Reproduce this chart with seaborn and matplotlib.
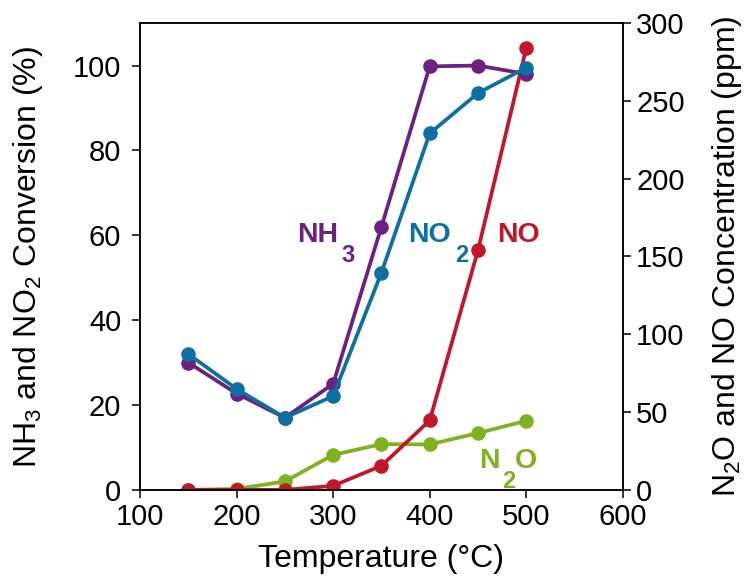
import matplotlib
matplotlib.use("Agg")
import matplotlib.pyplot as plt
import seaborn as sns
import pandas as pd

temperature = [150, 200, 250, 300, 350, 400, 450, 500]
nh3_conv = [30.0, 22.7, 17.0, 25.0, 62.0, 99.8, 100.0, 98.0]
no2_conv = [32.0, 23.8, 17.0, 22.1, 51.2, 84.0, 93.5, 99.5]
no_ppm = [0.0, 0.0, 0.0, 2.6, 15.5, 44.6, 154.0, 284.0]
n2o_ppm = [0.0, 0.6, 5.4, 22.5, 29.4, 29.2, 36.5, 44.4]

c_nh3 = "#6b2180"
c_no2 = "#0e6fa3"
c_no = "#c2172b"
c_n2o = "#80b11f"

sns.set_style("ticks")
plt.rcParams["font.family"] = ["Liberation Sans", "DejaVu Sans"]
plt.rcParams["mathtext.fontset"] = "custom"
plt.rcParams["mathtext.rm"] = "Liberation Sans"
plt.rcParams["mathtext.bf"] = "Liberation Sans:bold"
plt.rcParams["mathtext.default"] = "regular"

left_df = pd.DataFrame({"T": temperature * 2,
                        "v": nh3_conv + no2_conv,
                        "s": ["NH3"] * 8 + ["NO2"] * 8})
right_df = pd.DataFrame({"T": temperature * 2,
                         "v": n2o_ppm + no_ppm,
                         "s": ["N2O"] * 8 + ["NO"] * 8})

fig = plt.figure(figsize=(7.45, 5.77), dpi=100)
ax = fig.add_axes([0.188, 0.151, 0.648, 0.809])
ax2 = ax.twinx()

lw = 2.7
ms = 10.5
sns.lineplot(data=right_df, x="T", y="v", hue="s", palette={"N2O": c_n2o, "NO": c_no},
             marker="o", markersize=ms, markeredgewidth=0, linewidth=lw, ax=ax2, legend=False)
sns.lineplot(data=left_df, x="T", y="v", hue="s", palette={"NH3": c_nh3, "NO2": c_no2},
             marker="o", markersize=ms, markeredgewidth=0, linewidth=lw, ax=ax, legend=False)

ax.set_zorder(ax2.get_zorder() + 1)
ax.patch.set_visible(False)

ax.set_xlim(100, 600)
ax.set_ylim(0, 110)
ax2.set_ylim(0, 300)
ax.set_xticks([100, 200, 300, 400, 500, 600])
ax.set_yticks([0, 20, 40, 60, 80, 100])
ax2.set_yticks([0, 50, 100, 150, 200, 250, 300])

fs = 21
for a in (ax, ax2):
    a.tick_params(labelsize=fs, width=1.1, length=5.5, color="black", labelcolor="black")
    for sp in a.spines.values():
        sp.set_linewidth(1.1)
        sp.set_color("black")
ax.tick_params(axis="y", pad=8)
ax.tick_params(axis="x", pad=4)
ax2.tick_params(axis="y", pad=4)

lfs = 23
ax.set_xlabel("Temperature (°C)", fontsize=lfs, labelpad=9, color="black")
ax.set_ylabel(r"NH$_3$ and NO$_2$ Conversion (%)", fontsize=lfs, color="black")
ax2.set_ylabel(r"N$_2$O and NO Concentration (ppm)", fontsize=lfs, color="black")
ax.yaxis.set_label_coords(-0.197, 0.5)
ax2.yaxis.set_label_coords(1.18, 0.5)

afs = 20.5
sfs = 17
kw = dict(fontweight="bold", ha="left", va="baseline")
ax.text(262.5, 58.4, "NH", color=c_nh3, fontsize=afs, **kw)
ax.text(308.5, 53.7, "3", color=c_nh3, fontsize=sfs, **kw)
ax.text(377.4, 58.4, "NO", color=c_no2, fontsize=afs, **kw)
ax.text(426.5, 53.7, "2", color=c_no2, fontsize=sfs, **kw)
ax.text(469.6, 58.4, "NO", color=c_no, fontsize=afs, **kw)
ax.text(450.9, 5.2, "N", color=c_n2o, fontsize=afs, **kw)
ax.text(474.5, 0.5, "2", color=c_n2o, fontsize=sfs, **kw)
ax.text(488.2, 5.2, "O", color=c_n2o, fontsize=afs, **kw)

fig.savefig("out.png", dpi=100)
